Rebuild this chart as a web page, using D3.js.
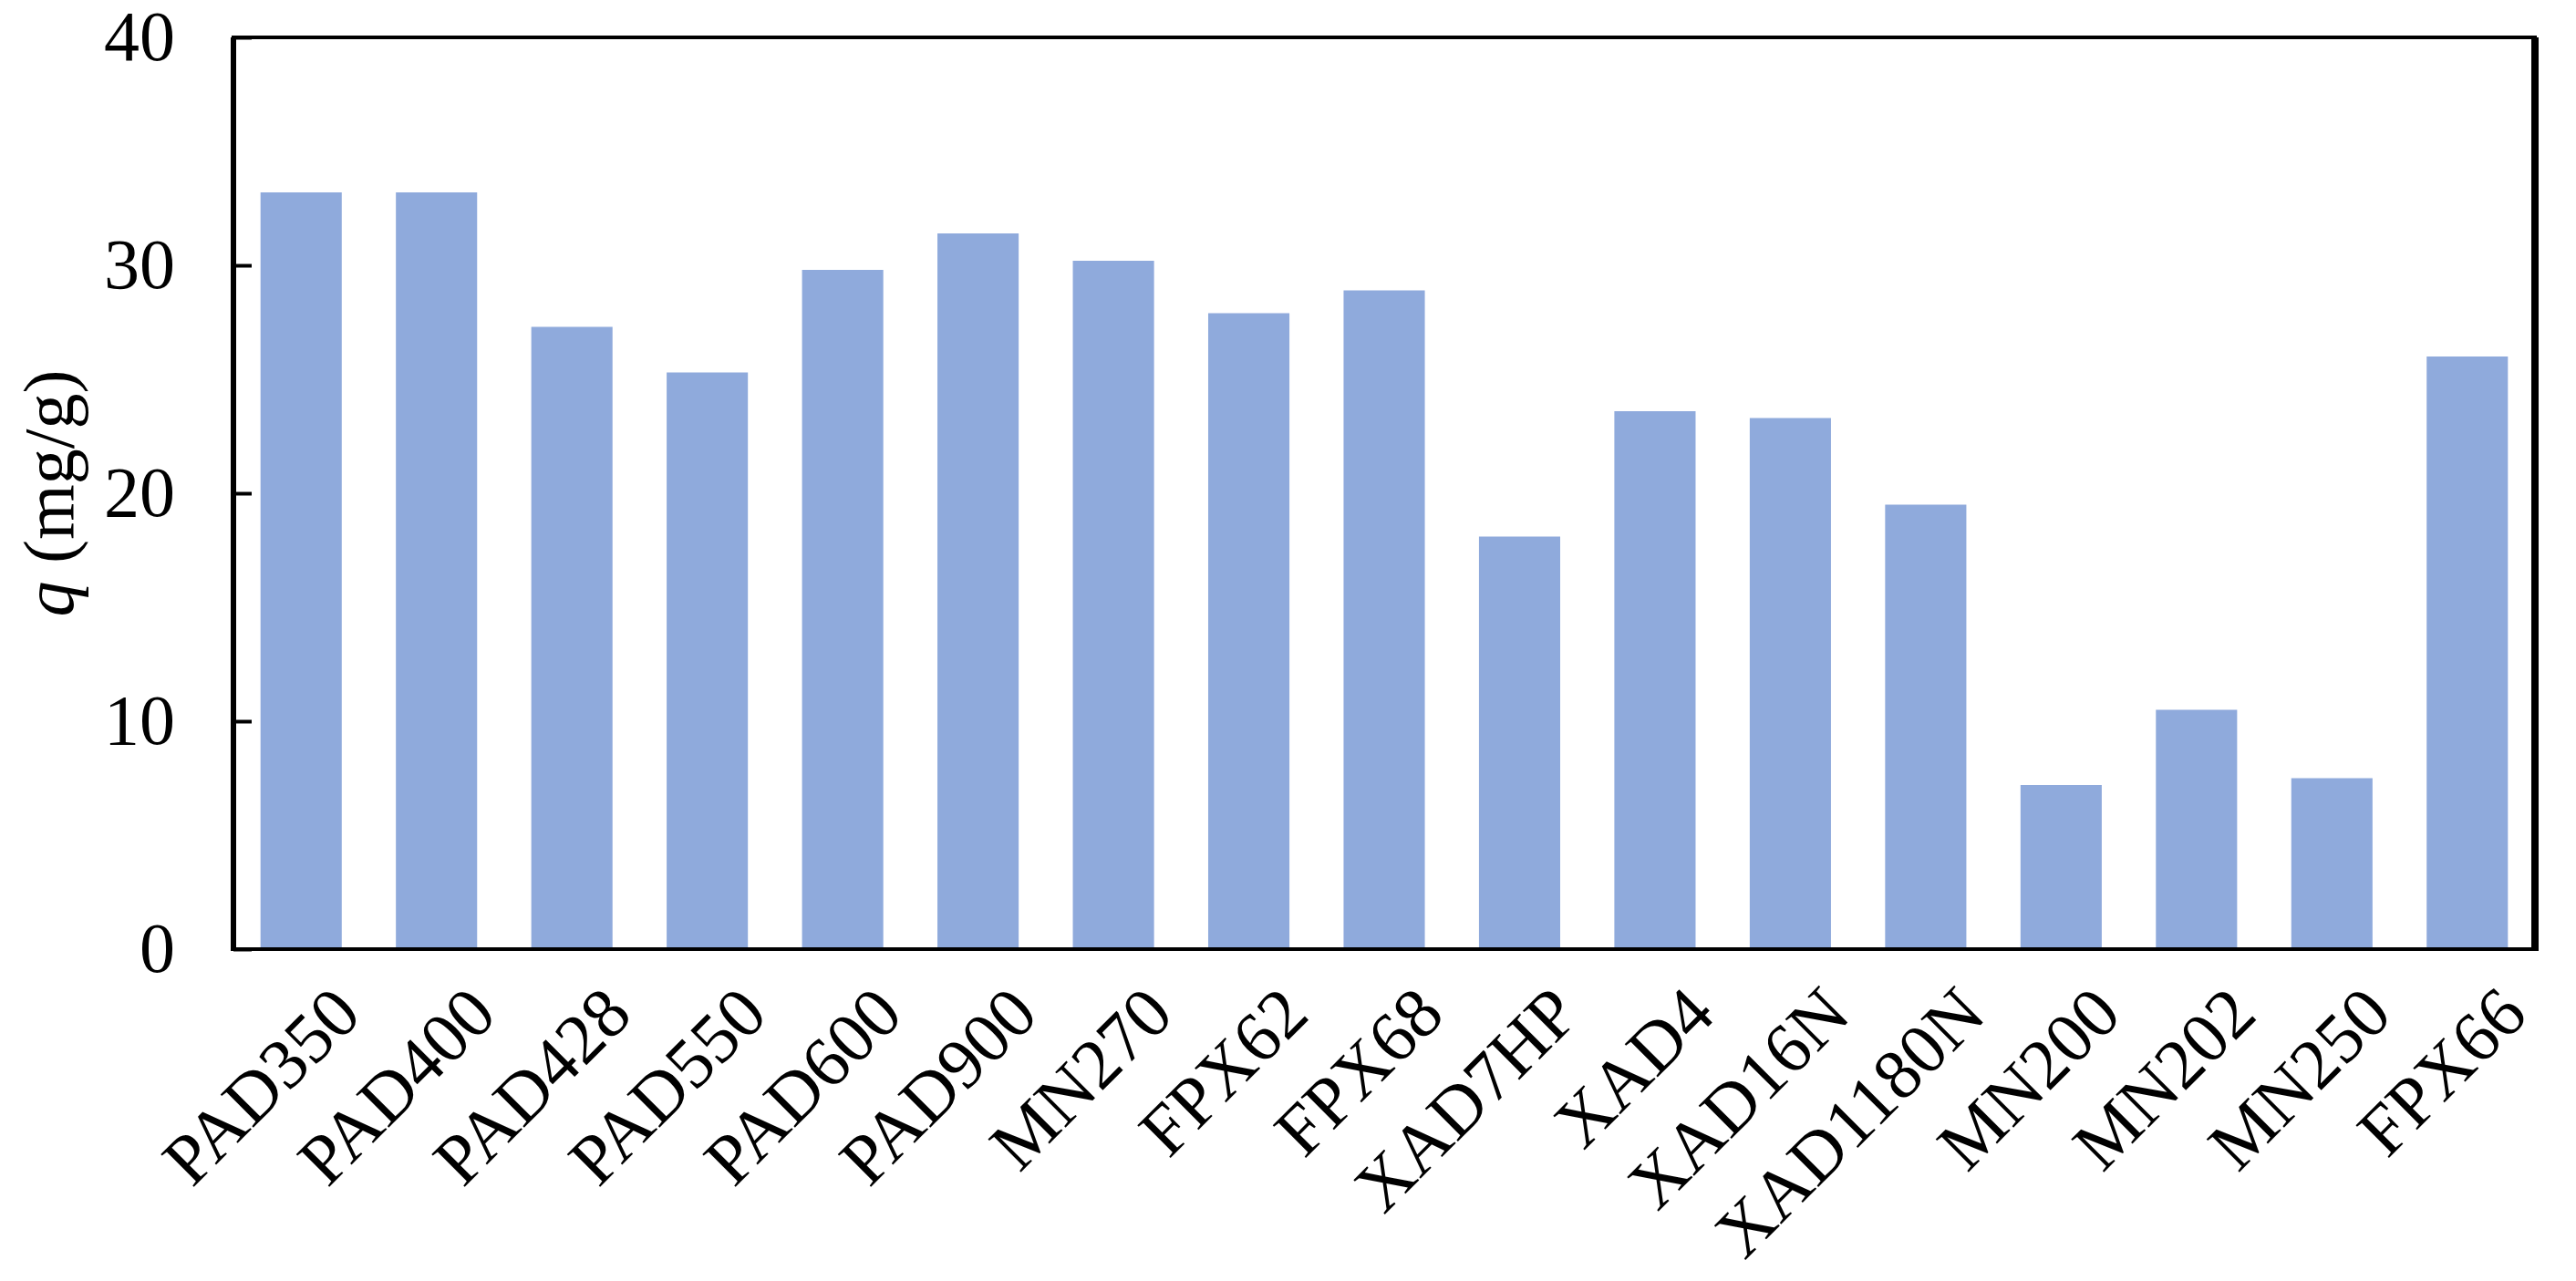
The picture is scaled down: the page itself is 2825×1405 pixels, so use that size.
<!DOCTYPE html><html><head><meta charset="utf-8"><script src="https://cdn.jsdelivr.net/npm/d3@7"></script>
<style>body{margin:0;background:#fff}</style></head><body><svg id="c" width="2825" height="1405"></svg>
<script>
const categories=["PAD350","PAD400","PAD428","PAD550","PAD600","PAD900","MN270","FPX62","FPX68","XAD7HP","XAD4","XAD16N","XAD1180N","MN200","MN202","MN250","FPX66"];
const values=[33.2,33.2,27.3,25.3,29.8,31.4,30.2,27.9,28.9,18.1,23.6,23.3,19.5,7.2,10.5,7.5,26.0];
const yTicks=[0,10,20,30,40];
const L=256,R=2780,T=41,B=1041;
const svg=d3.select("#c");
const x=d3.scaleBand().domain(categories).range([L,R]).paddingInner(0.4).paddingOuter(0.2);
const y=d3.scaleLinear().domain([0,40]).range([B,T]);
svg.selectAll("rect.b").data(values).join("rect").attr("class","b")
 .attr("x",(d,i)=>x(categories[i])).attr("width",x.bandwidth())
 .attr("y",d=>y(d)).attr("height",d=>B-y(d)).attr("fill","#8faadc");
svg.append("rect").attr("x",L).attr("y",T).attr("width",R-L).attr("height",B-T).attr("fill","none").attr("stroke","#000").attr("stroke-width",4);
svg.append("line").attr("x1",R).attr("x2",R).attr("y1",T).attr("y2",B+2).attr("stroke","#000").attr("stroke-width",8);
svg.append("line").attr("x1",L).attr("x2",L).attr("y1",T).attr("y2",B+2).attr("stroke","#000").attr("stroke-width",6);
const ya=svg.append("g").attr("transform",`translate(${L},0)`).call(d3.axisLeft(y).tickValues(yTicks).tickSize(-20).tickPadding(64));
ya.select(".domain").remove();
ya.selectAll("line").attr("stroke","#000").attr("stroke-width",4);
ya.selectAll("text").attr("font-family","Liberation Serif").attr("font-size",78).attr("fill","#000");
svg.selectAll("text.xl").data(categories).join("text").attr("class","xl")
 .attr("transform",d=>`translate(${x(d)+x.bandwidth()/2+30},${B+36}) rotate(-45)`)
 .attr("text-anchor","end").attr("dy","0.7em").attr("font-family","Liberation Serif").attr("font-size",78).text(d=>d);
const yl=svg.append("text").attr("transform",`translate(80,${(T+B)/2}) rotate(-90)`).attr("text-anchor","middle")
 .attr("font-family","Liberation Serif").attr("font-size",78);
yl.append("tspan").attr("font-style","italic").text("q");
yl.append("tspan").text(" (mg/g)");
</script></body></html>
